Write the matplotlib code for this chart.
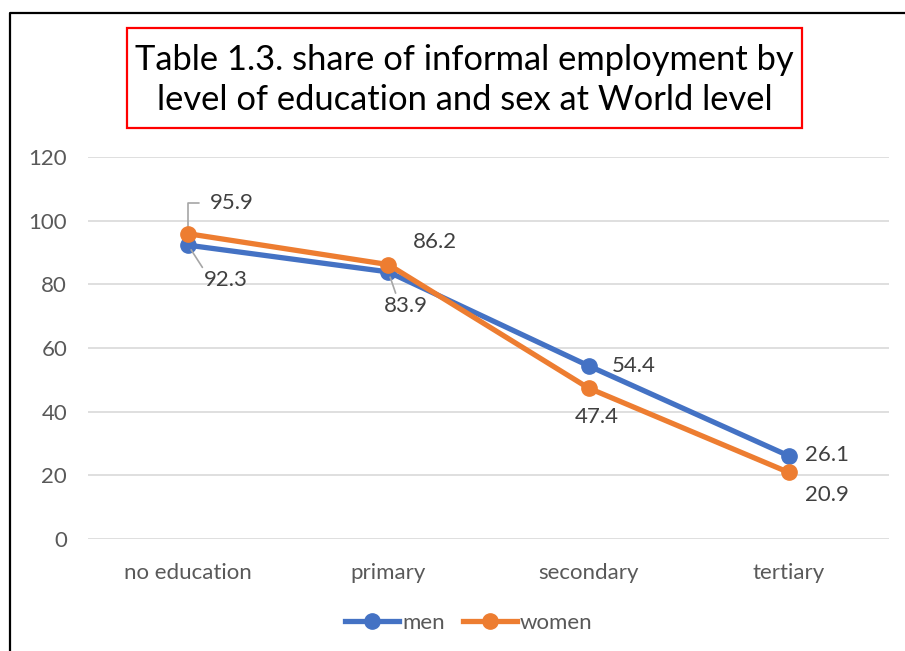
import matplotlib
matplotlib.use('Agg')
import matplotlib.pyplot as plt
from matplotlib.patches import Rectangle
from matplotlib.lines import Line2D

plt.rcParams['font.family'] = ['Lato', 'DejaVu Sans']

# data
categories = ['no education', 'primary', 'secondary', 'tertiary']
men = [92.3, 83.9, 54.4, 26.1]
women = [95.9, 86.2, 47.4, 20.9]

# label offsets in pixels (dx, dy) relative to the marker
men_offsets = [(38, -35), (17, -34), (45, 0), (38, 1)]
women_offsets = [(43, 31), (47, 23), (8, -29), (38, -23)]

W, H = 905, 651
FS = 16
fig = plt.figure(figsize=(W / 100, H / 100), dpi=100)

ax = fig.add_axes([88 / W, 1 - 539 / H, (889 - 88) / W, (539 - 157) / H])
x = list(range(len(categories)))

ax.plot(x, men, color='#4472C4', lw=3.8, marker='o', ms=11, label='men',
        solid_capstyle='round', zorder=3)
ax.plot(x, women, color='#ED7D31', lw=3.8, marker='o', ms=11, label='women',
        solid_capstyle='round', zorder=4)

ax.set_xlim(-0.5, 3.5)
ax.set_ylim(0, 120)
ax.set_yticks(range(0, 121, 20))
ax.set_xticks(x)
ax.set_xticklabels(categories)
ax.yaxis.grid(True, color='#d9d9d9', lw=1.2)
ax.set_axisbelow(True)
for s in ax.spines.values():
    s.set_visible(False)
ax.tick_params(length=0, labelsize=FS, colors='#595959')
ax.tick_params(axis='y', pad=15)
ax.tick_params(axis='x', pad=17)

lead = dict(arrowstyle='-', color='#a6a6a6', lw=1.2, shrinkA=0, shrinkB=4)

# data labels
for i, v in enumerate(women):
    dx, dy = women_offsets[i]
    if i == 0:
        ax.annotate(f'{v}', (i, v), xytext=(dx - 21, dy), textcoords='offset pixels',
                    ha='left', va='center', fontsize=FS, color='#404040',
                    arrowprops=dict(lead, connectionstyle='angle,angleA=0,angleB=90,rad=0',
                                    relpos=(0, 0.5), shrinkA=6))
    else:
        ax.annotate(f'{v}', (i, v), xytext=(dx, dy), textcoords='offset pixels',
                    ha='center', va='center', fontsize=FS, color='#404040')

for i, v in enumerate(men):
    dx, dy = men_offsets[i]
    if i in (0, 1):
        ax.annotate(f'{v}', (i, v), xytext=(dx, dy), textcoords='offset pixels',
                    ha='center', va='center', fontsize=FS, color='#404040',
                    arrowprops=dict(lead, relpos=(0.0, 1.0) if i == 0 else (0.3, 1.0)))
    else:
        ax.annotate(f'{v}', (i, v), xytext=(dx, dy), textcoords='offset pixels',
                    ha='center', va='center', fontsize=FS, color='#404040')

# legend
handles = [Line2D([], [], color='#4472C4', lw=3.8, marker='o', ms=11),
           Line2D([], [], color='#ED7D31', lw=3.8, marker='o', ms=11)]
leg = fig.legend(handles, ['men', 'women'], loc='center', ncol=2,
                 bbox_to_anchor=(469 / W, 1 - 623 / H), frameon=False,
                 fontsize=FS, handlelength=2.4, handletextpad=0.15,
                 columnspacing=0.85)
for t in leg.get_texts():
    t.set_color('#595959')

# title box
fig.patches.append(Rectangle((127 / W, 1 - 128 / H), (802 - 127) / W, 100 / H,
                             transform=fig.transFigure, fill=False,
                             edgecolor='#ff0000', lw=1.6))
fig.text(464.5 / W, 1 - 80 / H,
         'Table 1.3. share of informal employment by\nlevel of education and sex at World level',
         ha='center', va='center', fontsize=24.8, color='black', linespacing=1.3)

# outer border (left and top)
fig.lines.append(Line2D([10 / W, 10 / W, 1], [0, 1 - 13 / H, 1 - 13 / H],
                        transform=fig.transFigure, color='black', lw=1.6))

fig.savefig('out.png', dpi=100)
